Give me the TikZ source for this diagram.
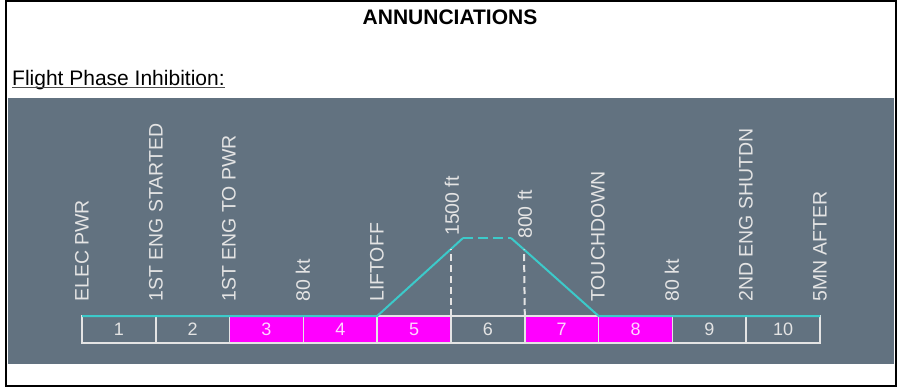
\documentclass[tikz,border=0pt]{standalone}
\usepackage{fontspec}
\setmainfont{Liberation Sans}
\usetikzlibrary{positioning}
\definecolor{panelgrey}{HTML}{627280}
\definecolor{tealline}{HTML}{3CCACA}
\definecolor{lightline}{HTML}{E4E4E4}
\definecolor{hotpink}{HTML}{FF00FF}
\definecolor{pinktext}{HTML}{FFD4FF}

\begin{document}
\begin{tikzpicture}[x=1pt, y=-1pt,
  cell/.style={minimum width=73.8pt, minimum height=27pt, inner sep=0pt, outer sep=0pt, draw=lightline, line width=1.5pt, fill=panelgrey, text=lightline, font=\fontsize{18}{20}\selectfont},
  hotcell/.style={cell, fill=hotpink, text=pinktext},
  tag/.style={rotate=90, anchor=west, inner sep=0pt, text=lightline, font=\fontsize{19.5}{20}\selectfont},
  profile/.style={draw=tealline, line width=2pt},
  gate/.style={draw=lightline, line width=2pt, dash pattern=on 7pt off 4pt},
]
\useasboundingbox (0,0) rectangle (900,388);
\fill[panelgrey] (8,97.5) rectangle (894,364);
\draw[line width=2pt] (6,1) rectangle (896,386);

\node[anchor=base, font=\bfseries\fontsize{21}{24}\selectfont] (title) at (450,24) {ANNUNCIATIONS};
\node[anchor=base west, inner sep=0pt, font=\fontsize{21}{24}\selectfont] (sub) at (12,85) {Flight Phase Inhibition:};
\draw[line width=1pt, black!70] ([yshift=-2.5pt]sub.base west) -- ([yshift=-2.5pt]sub.base east);

\node[cell] (c1) at (118.9,329.5) {1};
\node[cell] (c2) at (192.7,329.5) {2};
\node[hotcell] (c3) at (266.5,329.5) {3};
\node[hotcell] (c4) at (340.3,329.5) {4};
\node[hotcell] (c5) at (414.1,329.5) {5};
\node[cell] (c6) at (487.9,329.5) {6};
\node[hotcell] (c7) at (561.7,329.5) {7};
\node[hotcell] (c8) at (635.5,329.5) {8};
\node[cell] (c9) at (709.3,329.5) {9};
\node[cell] (c10) at (783.1,329.5) {10};

\node[tag] (t1) at (82,302) {ELEC PWR};
\node[tag] (t2) at (156,302) {1ST ENG STARTED};
\node[tag] (t3) at (229,302) {1ST ENG TO PWR};
\node[tag] (t4) at (303,302) {80 kt};
\node[tag] (t5) at (377,302) {LIFTOFF};
\node[tag] (t6) at (452,236) {1500 ft};
\node[tag] (t7) at (525,239) {800 ft};
\node[tag] (t8) at (598,302) {TOUCHDOWN};
\node[tag] (t9) at (672,302) {80 kt};
\node[tag] (t10) at (746,302) {2ND ENG SHUTDN};
\node[tag] (t11) at (820,302) {5MN AFTER};

\coordinate (v1) at (451,249);
\coordinate (v2) at (524,249.5);
\coordinate (p1) at (463,238);
\coordinate (p2) at (511,238);

\draw[profile] (c1.north west) -- (c5.north west) -- (v1) -- (p1);
\draw[profile, dash pattern=on 10pt off 5pt] (p1) -- (p2);
\draw[profile] (p2) -- (v2) -- (c8.north west) -- (c10.north east);
\draw[gate] (c6.north west) -- (v1);
\draw[gate] (c7.north west) -- (v2);
\end{tikzpicture}
\end{document}
